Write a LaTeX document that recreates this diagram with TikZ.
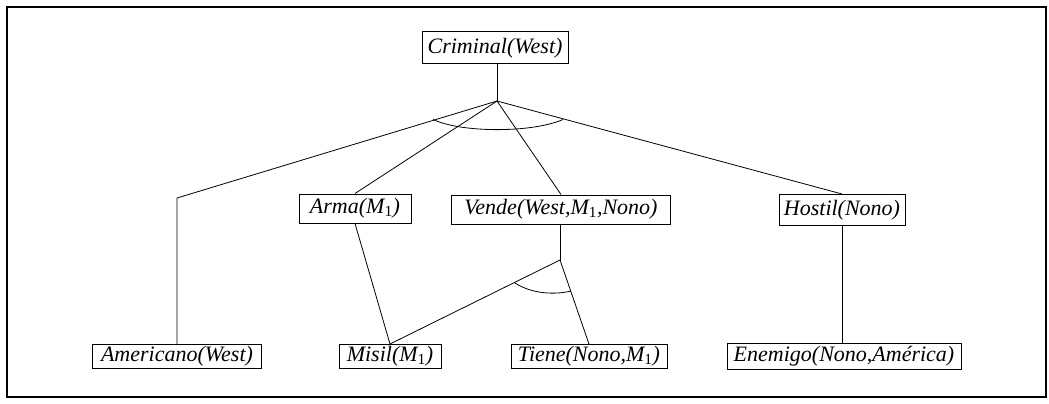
\documentclass[tikz,border=0pt]{standalone}
\usepackage{fontspec}
\setmainfont{Liberation Serif}
\usetikzlibrary{calc}
\newcommand{\Mone}{\textit{M}\textsubscript{\upshape 1}}
\tikzset{
  lbl/.style={draw, line width=1pt, inner sep=0pt, font=\fontsize{22}{24}\selectfont\itshape, anchor=center},
  edge/.style={line width=0.8pt}
}
\begin{document}
\begin{tikzpicture}[x=1pt,y=-1pt]
\useasboundingbox (0,0) rectangle (1049,404);
\draw[line width=1.1pt] (7,7) rectangle (1046,397);
% nodes
\node[lbl, minimum width=146pt, minimum height=32pt] (crim) at (495,48) {Criminal(West)};
\node[lbl, minimum width=112pt, minimum height=29pt] (arma) at (355,208.5) {Arma(\Mone)};
\node[lbl, minimum width=219pt, minimum height=29pt] (vende) at (561,209.5) {Vende(West,\Mone,Nono)};
\node[lbl, minimum width=126pt, minimum height=31pt] (hostil) at (842,210) {Hostil(Nono)};
\node[lbl, minimum width=169pt, minimum height=24pt] (amer) at (177,356.5) {Americano(West)};
\node[lbl, minimum width=102pt, minimum height=24pt] (misil) at (390,356.5) {Misil(\Mone)};
\node[lbl, minimum width=156pt, minimum height=24pt] (tiene) at (589,356.5) {Tiene(Nono,\Mone)};
\node[lbl, minimum width=234pt, minimum height=26pt] (enem) at (844,356) {Enemigo(Nono,América)};
% junction points
\coordinate (apex) at (497,101);
\coordinate (corner) at (177,198);
\coordinate (junc) at (560,260);
% edges
\draw[edge] (apex |- crim.south) -- (apex);
\draw[edge] (apex) -- (corner) -- (amer.north);
\draw[edge] (apex) -- (arma.north);
\draw[edge] (apex) -- (vende.north);
\draw[edge] (apex) -- (hostil.north);
\draw[edge] (arma.south) -- (misil.north);
\draw[edge] (junc |- vende.south) -- (junc);
\draw[edge] (junc) -- (misil.north);
\draw[edge] (junc) -- (tiene.north);
\draw[edge] (hostil.south) -- (hostil.south |- enem.north);
% and-arcs
\draw[edge] (433,119.5) .. controls (462,133) and (532,133) .. (563,119.5);
\draw[edge] (515,283) .. controls (532,294) and (555,295) .. (571,291);
\end{tikzpicture}
\end{document}
